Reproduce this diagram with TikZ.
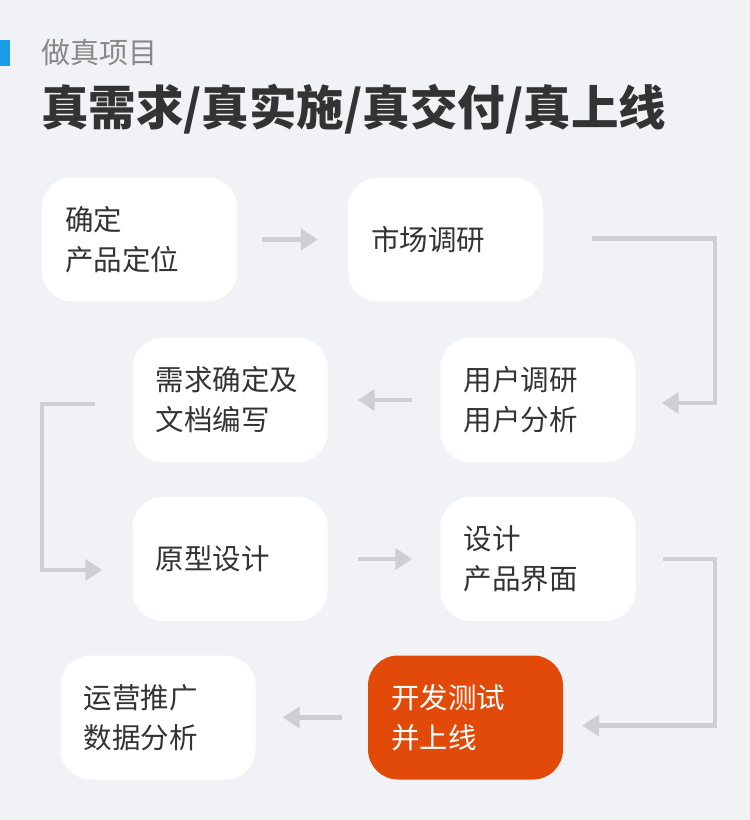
\documentclass[tikz,border=0pt]{standalone}
\usepackage{fontspec}
\setmainfont{Noto Sans CJK SC}
\usetikzlibrary{arrows.meta}
\definecolor{bg}{RGB}{241,242,246}
\definecolor{txt}{RGB}{51,51,51}
\definecolor{subc}{RGB}{136,136,136}
\definecolor{hotc}{RGB}{226,74,10}
\definecolor{arrc}{RGB}{206,207,211}
\definecolor{barc}{RGB}{26,155,230}
\begin{document}
\begin{tikzpicture}[x=1pt,y=-1pt,
  box/.style={fill=white, rounded corners=30pt, minimum width=195pt, minimum height=124pt,
    text width=149pt, inner xsep=23pt, inner ysep=0pt, align=left,
    font=\fontsize{28.5}{40}\selectfont, text=txt},
  hot/.style={box, fill=hotc, text=white},
  arr/.style={draw=arrc, line width=4.5pt, -{Triangle[length=17pt,width=21pt]}}]
\fill[bg] (0,0) rectangle (750,820);
\useasboundingbox (0,0) rectangle (750,820);
\fill[barc] (0,40) rectangle (10,66);
\node[anchor=west, inner sep=0pt, text=subc, font=\fontsize{29}{34}\selectfont] (sub) at (41,52) {做真项目};
\node[anchor=west, inner sep=0pt, text=txt, font=\fontsize{47.5}{56}\selectfont\bfseries] (title) at (41,109) {真需求/真实施/真交付/真上线};
\node[box] (b1) at (139.5,239.5) {确定\\产品定位};
\node[box] (b2) at (445.5,239.5) {市场调研};
\node[box] (b3) at (230,400) {需求确定及\\文档编写};
\node[box] (b4) at (538,400) {用户调研\\用户分析};
\node[box] (b5) at (230,559) {原型设计};
\node[box] (b6) at (538,559) {设计\\产品界面};
\node[box] (b7) at (158,717.5) {运营推广\\数据分析};
\node[hot] (b8) at (465.5,717.5) {开发测试\\并上线};
\draw[arr, shorten <=25pt, shorten >=30pt] (b1) -- (b2);
\draw[arr] ([xshift=49pt,yshift=1pt]b2.east) -- ([xshift=172pt,yshift=1pt]b2.east) |- ([xshift=26pt,yshift=-3pt]b4.east);
\draw[arr, shorten <=28pt, shorten >=30pt] (b4) -- (b3);
\draw[arr] ([xshift=-37pt,yshift=-4pt]b3.west) -- ([xshift=-90.5pt,yshift=-4pt]b3.west) |- ([xshift=-30pt,yshift=-11pt]b5.west);
\draw[arr, shorten <=30pt, shorten >=28pt] (b5) -- (b6);
\draw[arr] ([xshift=27.5pt]b6.east) -- ([xshift=79.5pt]b6.east) |- ([xshift=19pt,yshift=-8pt]b8.east);
\draw[arr, shorten <=26pt, shorten >=27pt] (b8) -- (b7);
\end{tikzpicture}
\end{document}
